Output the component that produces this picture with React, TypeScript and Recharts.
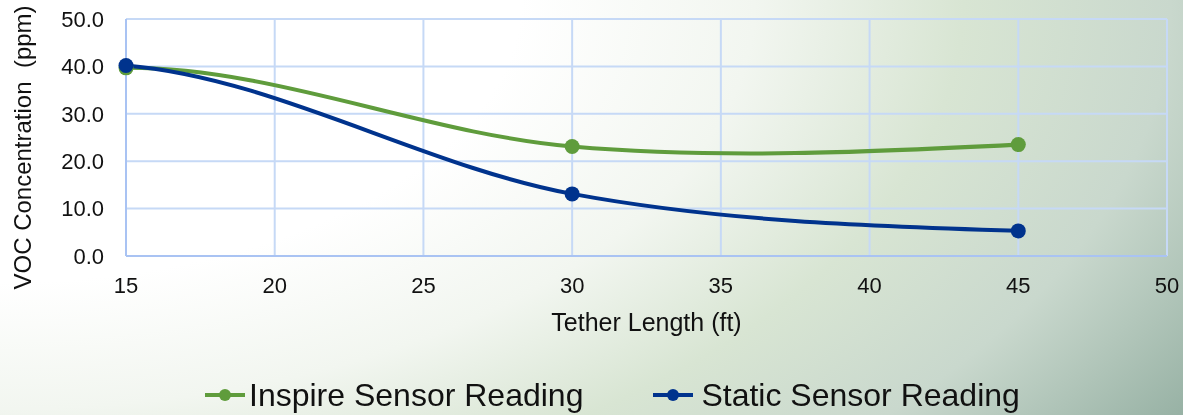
import { LineChart, Line, XAxis, YAxis, CartesianGrid, Legend } from "recharts"

// tether length (ft)
const lengths = [15, 30, 45]
// VOC concentration (ppm)
const inspireValues = [39.7, 23.1, 23.5]
const staticValues = [40.2, 13.1, 5.3]

const xTicks = [15, 20, 25, 30, 35, 40, 45, 50]
const yTicks = [0, 10, 20, 30, 40, 50]

const seriesNames = ["Inspire Sensor Reading", "Static Sensor Reading"]
const seriesColors = ["#5f9c3c", "#00338d"]

const data = lengths.map((len, i) => ({
  length: len,
  inspire: inspireValues[i],
  static: staticValues[i],
}))

const FONT = "'Liberation Sans', Arial, sans-serif"

// smooth line like the spreadsheet one: bezier segments with catmull-rom tangents inside,
// first tangent mirrored from the next one, last one with a natural end
function smoothCurve(context: any) {
  let pts: number[][] = []
  return {
    areaStart() {},
    areaEnd() {},
    lineStart() {
      pts = []
    },
    point(x: number, y: number) {
      pts.push([+x, +y])
    },
    lineEnd() {
      const n = pts.length
      if (!n) return
      context.moveTo(pts[0][0], pts[0][1])
      if (n === 1) return
      const chord = (i: number) => (pts[i + 1][1] - pts[i][1]) / (pts[i + 1][0] - pts[i][0])
      const m = pts.map((p, i) =>
        i === 0 || i === n - 1 ? 0 : (pts[i + 1][1] - pts[i - 1][1]) / (pts[i + 1][0] - pts[i - 1][0])
      )
      if (n > 2) {
        m[0] = 2 * m[1] - chord(0)
        m[n - 1] = (3 * chord(n - 2) - m[n - 2]) / 2
      } else {
        m[0] = m[1] = chord(0)
      }
      for (let i = 0; i < n - 1; i++) {
        const [x0, y0] = pts[i]
        const [x1, y1] = pts[i + 1]
        const dx = (x1 - x0) / 3
        context.bezierCurveTo(x0 + dx, y0 + m[i] * dx, x1 - dx, y1 - m[i + 1] * dx, x1, y1)
      }
    },
  }
}

function LegendContent() {
  return (
    <div style={{ display: "flex", paddingLeft: 205, paddingTop: 43, fontFamily: FONT, fontSize: 32, lineHeight: "32px", color: "#111" }}>
      {seriesNames.map((name, i) => (
        <div key={name} style={{ display: "flex", alignItems: "center", marginRight: i === 0 ? 70 : 0 }}>
          <svg width={40} height={16} style={{ marginRight: i === 0 ? 4 : 8 }}>
            <line x1={0} y1={8} x2={40} y2={8} stroke={seriesColors[i]} strokeWidth={4} />
            <circle cx={20} cy={8} r={6} fill={seriesColors[i]} />
          </svg>
          <span>{name}</span>
        </div>
      ))}
    </div>
  )
}

export default function App() {
  return (
    <div
      style={{
        position: "fixed",
        left: 0,
        top: 0,
        width: 1183,
        height: 415,
        background:
          "radial-gradient(ellipse 110% 170% at 0% 0%, #ffffff 0%, #ffffff 40%, #f2f6f0 58%, #d8e5d3 74%, #c9d8cd 90%, #98b2a5 108%)",
      }}
    >
      <LineChart width={1183} height={415} data={data} margin={{ top: 19, right: 16, left: 0, bottom: 0 }}>
        <CartesianGrid stroke="#c6d9f6" strokeWidth={2} />
        <XAxis
          dataKey="length"
          type="number"
          domain={[15, 50]}
          ticks={xTicks}
          height={80}
          tickSize={0}
          tickMargin={21}
          axisLine={{ stroke: "#a9c3f3", strokeWidth: 2 }}
          tick={{ fill: "#111", fontSize: 22, fontFamily: FONT }}
          label={{ value: "Tether Length (ft)", position: "insideBottom", offset: 5, fill: "#111", fontSize: 25, fontFamily: FONT }}
        />
        <YAxis
          type="number"
          domain={[0, 50]}
          ticks={yTicks}
          width={126}
          tickSize={0}
          tickMargin={22}
          tickFormatter={(v: number) => v.toFixed(1)}
          axisLine={{ stroke: "#a9c3f3", strokeWidth: 2 }}
          tick={{ fill: "#111", fontSize: 22, fontFamily: FONT }}
          label={{
            value: "VOC Concentration\u00a0\u00a0(ppm)",
            angle: -90,
            position: "center",
            dx: -41,
            dy: 10,
            fill: "#111",
            fontSize: 24,
            fontFamily: FONT,
          }}
        />
        <Legend verticalAlign="bottom" content={<LegendContent />} wrapperStyle={{ height: 79, left: 0, width: 1183 }} />
        <Line
          dataKey="inspire"
          name={seriesNames[0]}
          type={smoothCurve as any}
          stroke={seriesColors[0]}
          strokeWidth={4}
          dot={{ r: 7.5, fill: seriesColors[0], stroke: seriesColors[0], strokeWidth: 0 }}
          activeDot={false}
          isAnimationActive={false}
        />
        <Line
          dataKey="static"
          name={seriesNames[1]}
          type={smoothCurve as any}
          stroke={seriesColors[1]}
          strokeWidth={4}
          dot={{ r: 7.5, fill: seriesColors[1], stroke: seriesColors[1], strokeWidth: 0 }}
          activeDot={false}
          isAnimationActive={false}
        />
      </LineChart>
    </div>
  )
}
